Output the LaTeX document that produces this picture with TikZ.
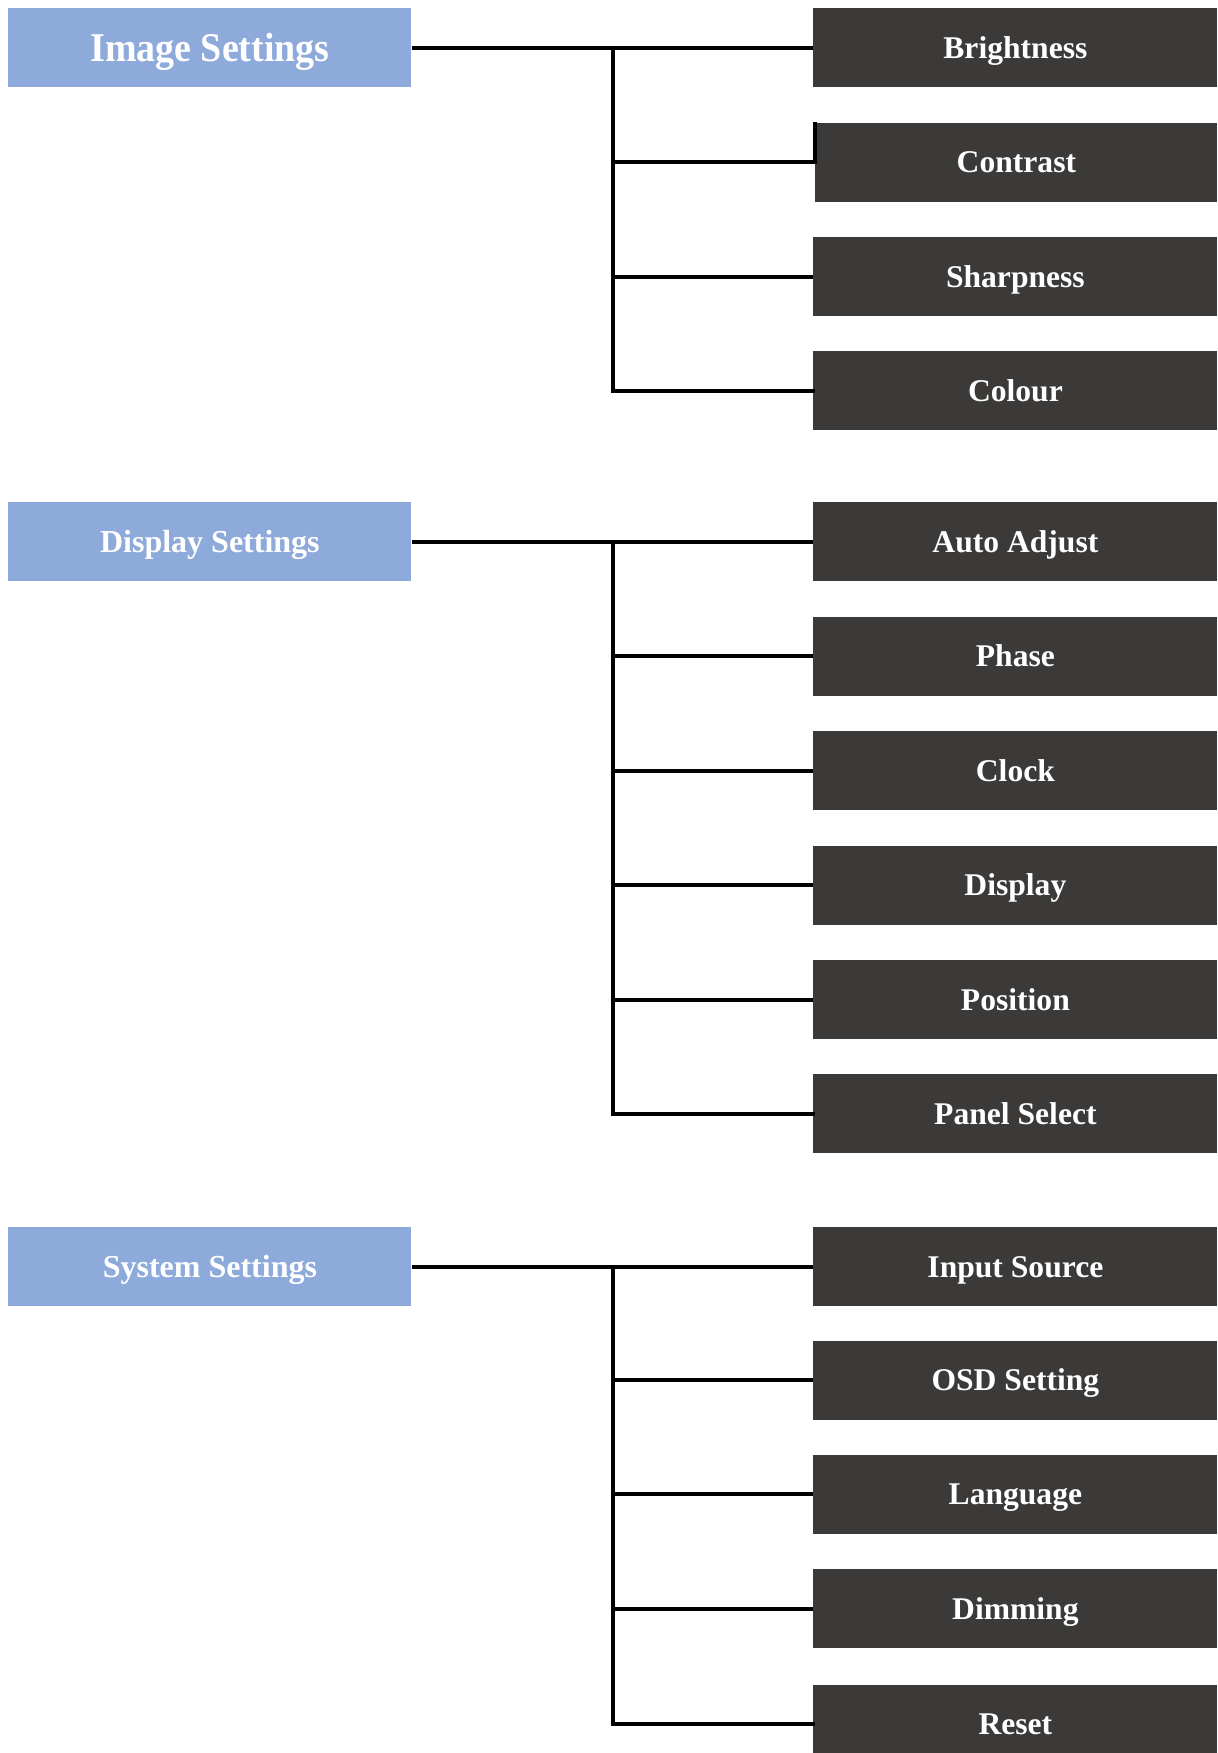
\documentclass[tikz,border=0pt]{standalone}
\usepackage{fontspec}
\setmainfont{Liberation Serif}
\newfontfamily\headfont[FakeStretch=0.93]{Liberation Serif}
\definecolor{headblue}{HTML}{8EAADB}
\definecolor{itemgray}{HTML}{3C3A38}
\begin{document}
\begin{tikzpicture}[x=0.5pt,y=-0.5pt,
  head/.style={fill=headblue, draw=none, anchor=north west, minimum width=201.5pt,
    minimum height=39.5pt, inner sep=0pt, text=white,
    font=\bfseries\fontsize{16}{18}\selectfont, text height=10.6pt, text depth=0pt},
  item/.style={fill=itemgray, draw=none, anchor=north west, minimum width=202pt,
    minimum height=39.5pt, inner sep=0pt, text=white,
    font=\bfseries\fontsize{15.8}{18}\selectfont, text height=10.5pt, text depth=0pt},
  conn/.style={line width=2pt, black}]
\useasboundingbox (0,0) rectangle (1217,1753);
\fill[white] (0,0) rectangle (1217,1753);
\coordinate (tx) at (613,0);
% group 1
\node[head, font=\headfont\bfseries\fontsize{20.4}{24}\selectfont, text height=13.5pt] (img) at (8,8) {Image Settings};
\node[item] (bri) at (813,8) {Brightness};
\node[item, minimum width=201pt] (con) at (815,122.3) {Contrast};
\node[item] (sha) at (813,236.6) {Sharpness};
\node[item] (col) at (813,351) {Colour};
\draw[conn] (img.east) -- (bri.west);
\draw[conn, line cap=rect] (bri.west -| tx) -- (col.west -| tx) -- (col.west);
\draw[conn] (con.west -| tx) -- (con.west) -- (con.north west);
\draw[conn] (sha.west -| tx) -- (sha.west);
% group 2
\node[head] (dis) at (8,502) {Display Settings};
\node[item] (aut) at (813,502) {Auto Adjust};
\node[item] (pha) at (813,616.4) {Phase};
\node[item] (clo) at (813,730.8) {Clock};
\node[item] (dsp) at (813,845.2) {Display};
\node[item] (pos) at (813,959.6) {Position};
\node[item] (pan) at (813,1074) {Panel Select};
\draw[conn] (dis.east) -- (aut.west);
\draw[conn, line cap=rect] (aut.west -| tx) -- (pan.west -| tx) -- (pan.west);
\draw[conn] (pha.west -| tx) -- (pha.west);
\draw[conn] (clo.west -| tx) -- (clo.west);
\draw[conn] (dsp.west -| tx) -- (dsp.west);
\draw[conn] (pos.west -| tx) -- (pos.west);
% group 3
\node[head] (sys) at (8,1227) {System Settings};
\node[item] (inp) at (813,1227) {Input Source};
\node[item] (osd) at (813,1340.5) {OSD Setting};
\node[item] (lan) at (813,1454.5) {Language};
\node[item] (dim) at (813,1569) {Dimming};
\node[item] (res) at (813,1684.5) {Reset};
\draw[conn] (sys.east) -- (inp.west);
\draw[conn, line cap=rect] (inp.west -| tx) -- (res.west -| tx) -- (res.west);
\draw[conn] (osd.west -| tx) -- (osd.west);
\draw[conn] (lan.west -| tx) -- (lan.west);
\draw[conn] (dim.west -| tx) -- (dim.west);
\end{tikzpicture}
\end{document}
